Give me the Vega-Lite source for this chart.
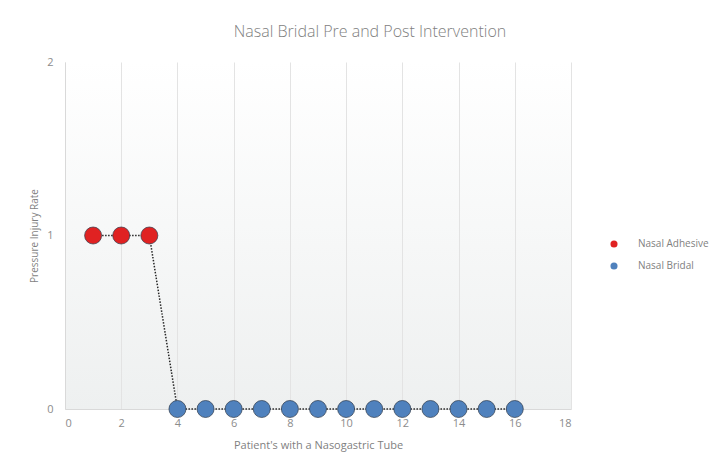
{
  "$schema": "https://vega.github.io/schema/vega-lite/v6.json",
  "autosize": "none",
  "width": 506,
  "height": 347,
  "padding": {"left": 65, "top": 62, "right": 144, "bottom": 57},
  "background": "white",
  "title": {
    "text": "Nasal Bridal Pre and Post Intervention",
    "font": "Open Sans",
    "fontSize": 16,
    "fontWeight": 300,
    "color": "#7f7f7f",
    "anchor": "middle",
    "dx": 52,
    "offset": 16
  },
  "config": {
    "view": {
      "stroke": null,
      "fill": {
        "gradient": "linear",
        "x1": 0, "y1": 0, "x2": 0, "y2": 1,
        "stops": [{"offset": 0, "color": "#ffffff"}, {"offset": 1, "color": "#eef0f0"}]
      }
    },
    "font": "Open Sans"
  },
  "data": {
    "values": [
      {"patient": 1, "rate": 1, "group": "Nasal Adhesive"},
      {"patient": 2, "rate": 1, "group": "Nasal Adhesive"},
      {"patient": 3, "rate": 1, "group": "Nasal Adhesive"},
      {"patient": 4, "rate": 0, "group": "Nasal Bridal"},
      {"patient": 5, "rate": 0, "group": "Nasal Bridal"},
      {"patient": 6, "rate": 0, "group": "Nasal Bridal"},
      {"patient": 7, "rate": 0, "group": "Nasal Bridal"},
      {"patient": 8, "rate": 0, "group": "Nasal Bridal"},
      {"patient": 9, "rate": 0, "group": "Nasal Bridal"},
      {"patient": 10, "rate": 0, "group": "Nasal Bridal"},
      {"patient": 11, "rate": 0, "group": "Nasal Bridal"},
      {"patient": 12, "rate": 0, "group": "Nasal Bridal"},
      {"patient": 13, "rate": 0, "group": "Nasal Bridal"},
      {"patient": 14, "rate": 0, "group": "Nasal Bridal"},
      {"patient": 15, "rate": 0, "group": "Nasal Bridal"},
      {"patient": 16, "rate": 0, "group": "Nasal Bridal"}
    ]
  },
  "encoding": {
    "x": {
      "field": "patient",
      "type": "quantitative",
      "scale": {"domain": [0, 18], "nice": false},
      "axis": {
        "values": [0, 2, 4, 6, 8, 10, 12, 14, 16, 18],
        "labelExpr": "format(datum.value, '.0f')",
        "labelOverlap": false,
        "title": "Patient's with a Nasogastric Tube",
        "titleFont": "Open Sans",
        "titleFontSize": 11,
        "titleFontWeight": "normal",
        "titleColor": "#7f7f7f",
        "titlePadding": 11,
        "labelFontSize": 11,
        "labelColor": "#8c8c8c",
        "labelPadding": 8,
        "ticks": false,
        "domainColor": "#d9d9d9",
        "grid": true,
        "gridColor": "#e3e3e3"
      }
    },
    "y": {
      "field": "rate",
      "type": "quantitative",
      "scale": {"domain": [0, 2], "nice": false},
      "axis": {
        "values": [0, 1, 2],
        "labelExpr": "format(datum.value, '.0f')",
        "labelOverlap": false,
        "labelBound": false,
        "title": "Pressure Injury Rate",
        "titleFont": "Open Sans",
        "titleFontSize": 10,
        "titleFontWeight": "normal",
        "titleColor": "#7f7f7f",
        "titlePadding": 7,
        "labelFontSize": 11,
        "labelColor": "#8c8c8c",
        "labelPadding": 12,
        "ticks": false,
        "domainColor": "#d9d9d9",
        "grid": false
      }
    }
  },
  "layer": [
    {
      "mark": {"type": "line", "color": "#262626", "strokeWidth": 1.5, "strokeDash": [1.5, 1.5]},
      "encoding": {}
    },
    {
      "mark": {"type": "point", "filled": true, "size": 290, "opacity": 1, "stroke": "#2f3b4a", "strokeWidth": 0.7},
      "encoding": {
        "color": {
          "field": "group",
          "type": "nominal",
          "scale": {"domain": ["Nasal Adhesive", "Nasal Bridal"], "range": ["#e02222", "#4f81bd"]},
          "legend": {
            "title": null,
            "orient": "none",
            "legendX": 544,
            "legendY": 177,
            "symbolSize": 50,
            "symbolStrokeWidth": 0,
            "labelFontSize": 10,
            "labelColor": "#7f7f7f",
            "labelOffset": 19,
            "rowPadding": 12
          }
        }
      }
    }
  ]
}
